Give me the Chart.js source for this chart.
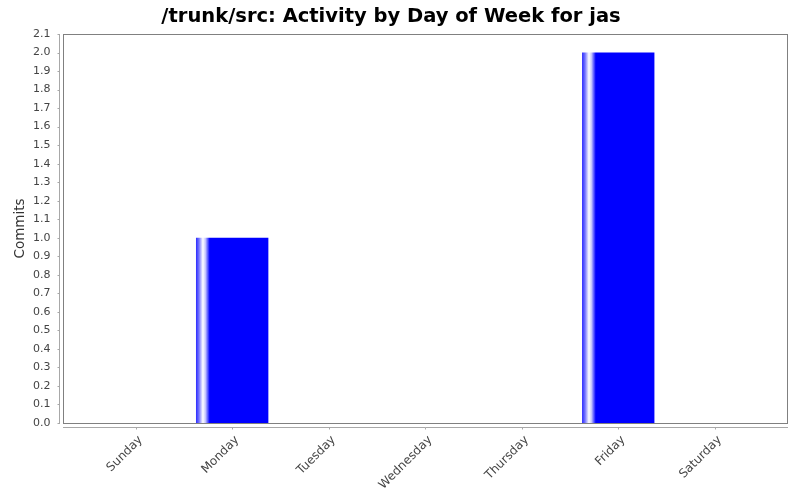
<!DOCTYPE html>
<html>
<head>
<meta charset="utf-8">
<script src="https://cdn.jsdelivr.net/npm/chart.js@4.4.1/dist/chart.umd.min.js"></script>
<style>
    html, body { margin: 0; padding: 0; background: #fff; }
</style>
</head>
<body>
<canvas id="myChart" width="800" height="500"></canvas>
<script>
const days = ['Sunday', 'Monday', 'Tuesday', 'Wednesday', 'Thursday', 'Friday', 'Saturday'];
const commits = [0, 1, 0, 0, 0, 2, 0];
const yTicks = [0.0, 0.1, 0.2, 0.3, 0.4, 0.5, 0.6, 0.7, 0.8, 0.9, 1.0,
                1.1, 1.2, 1.3, 1.4, 1.5, 1.6, 1.7, 1.8, 1.9, 2.0, 2.1];

const FONT = "'DejaVu Sans', sans-serif";

// jfreechart style bar shine (white strip near the left edge)
function barShine(context) {
    const xs = context.chart.scales.x;
    if (!xs || context.type !== 'data') return '#0000ff';
    const c = xs.getPixelForValue(context.dataIndex);
    const w = xs.width / days.length * 0.75;
    if (!isFinite(c) || !isFinite(w) || w <= 0) return '#0000ff';
    const g = context.chart.ctx.createLinearGradient(c - w / 2, 0, c + w / 2, 0);
    g.addColorStop(0, '#2a2aff');
    g.addColorStop(0.04, '#7070ff');
    g.addColorStop(0.095, '#ffffff');
    g.addColorStop(0.13, '#c8c8ff');
    g.addColorStop(0.19, '#0000ff');
    g.addColorStop(1, '#0000ff');
    return g;
}

// plot outline + offset axis lines like the original
const framePlugin = {
    id: 'frame',
    afterDatasetsDraw(chart) {
        const { ctx, chartArea: a, scales: { x, y } } = chart;
        const m = (a.right - a.left) / days.length * 0.253;
        const L = Math.round(a.left - m), R = Math.round(a.right + m);
        const T = Math.round(a.top), B = Math.round(a.bottom);
        ctx.save();
        ctx.lineWidth = 1;
        ctx.strokeStyle = '#808080';
        ctx.strokeRect(L + 0.5, T + 0.5, R - L, B - T);

        ctx.strokeStyle = '#a8a8a8';
        ctx.beginPath();
        const ax = L - 4 + 0.5;
        ctx.moveTo(ax, T); ctx.lineTo(ax, B + 1);
        yTicks.forEach(v => {
            const yy = Math.round(y.getPixelForValue(v)) + 0.5;
            ctx.moveTo(ax - 2, yy); ctx.lineTo(ax, yy);
        });
        const ay = B + 4 + 0.5;
        ctx.moveTo(L, ay); ctx.lineTo(R + 1, ay);
        days.forEach((d, i) => {
            const xx = Math.round(x.getPixelForValue(i)) + 0.5;
            ctx.moveTo(xx, ay); ctx.lineTo(xx, ay + 2);
        });
        ctx.stroke();
        ctx.restore();
    }
};

const ctx = document.getElementById('myChart');
new Chart(ctx, {
    type: 'bar',
    data: {
        labels: days,
        datasets: [{
            label: 'Commits',
            data: commits,
            backgroundColor: barShine,
            borderWidth: 0,
            categoryPercentage: 1,
            barPercentage: 0.75
        }]
    },
    options: {
        responsive: false,
        animation: false,
        devicePixelRatio: 1,
        layout: {
            padding: { left: 19, right: 37, top: 0, bottom: 0 }
        },
        plugins: {
            legend: { display: false },
            tooltip: { enabled: false },
            title: {
                display: true,
                text: '/trunk/src: Activity by Day of Week for jas',
                color: '#000',
                font: { family: FONT, size: 19.5, weight: 'bold' },
                padding: { top: 5, bottom: 5.6 }
            }
        },
        scales: {
            x: {
                // tick marks themselves are drawn by framePlugin, length only spaces the labels
                grid: { display: false, drawTicks: true, tickLength: 10 },
                border: { display: false },
                ticks: {
                    color: '#444',
                    font: { family: FONT, size: 12 },
                    maxRotation: 45,
                    minRotation: 45,
                    autoSkip: false,
                    padding: 0,
                    labelOffset: 5
                },
                afterFit: s => { s.height = 77; }
            },
            y: {
                min: 0,
                max: 2.1,
                grid: { display: false, drawTicks: true, tickLength: 37 },
                border: { display: false },
                title: {
                    display: true,
                    text: 'Commits',
                    color: '#333',
                    font: { family: FONT, size: 13.5 },
                    padding: { top: -7, bottom: 0 }
                },
                ticks: {
                    color: '#444',
                    font: { family: FONT, size: 11 },
                    padding: 0,
                    callback: v => Number(v).toFixed(1)
                },
                afterBuildTicks: s => { s.ticks = yTicks.map(v => ({ value: v })); },
                afterFit: s => { s.width = 68.4; }
            }
        }
    },
    plugins: [framePlugin]
});
</script>
</body>
</html>
